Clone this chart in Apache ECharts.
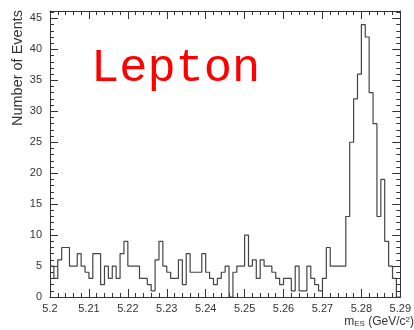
<!DOCTYPE html>
<html>
<head>
<meta charset="utf-8">
<script src="https://cdn.jsdelivr.net/npm/echarts@6/dist/echarts.min.js"></script>
<style>
html,body{margin:0;padding:0;background:#fff;}
#chart{width:414px;height:330px;}
</style>
</head>
<body>
<div id="chart"></div>
<script>
// ---- data ----
const xMin = 5.2;
const xMax = 5.29;
const binWidth = 0.001;
const counts = [
  5, 3, 6, 8, 8, 5, 5, 7, 5, 4,
  3, 7, 7, 2, 5, 3, 5, 3, 7, 9,
  5, 5, 5, 3, 3, 2, 1, 6, 9, 5,
  4, 3, 3, 6, 2, 7, 4, 4, 4, 7,
  4, 3, 2, 3, 4, 5, 0, 4, 5, 5,
  10, 5, 6, 3, 6, 5, 5, 4, 3, 2,
  3, 3, 1, 5, 1, 1, 5, 3, 2, 1,
  3, 8, 5, 5, 5, 5, 13, 25, 32, 36,
  44, 42, 33, 28, 13, 19, 9, 5, 3, 0
];
const yMax = 46.2;
const xTickLabels = ['5.2','5.21','5.22','5.23','5.24','5.25','5.26','5.27','5.28','5.29'];
const yTickLabels = ['0','5','10','15','20','25','30','35','40','45'];
const yTitle = 'Number of Events';
const overlayText = 'Lepton';

// histogram outline points (bin low edges + closing edge)
const pts = counts.map((c, i) => [xMin + i * binWidth, c]);
pts.push([xMin + counts.length * binWidth, counts[counts.length - 1]]);

const axisColor = '#333';
const labelFont = {fontFamily: '"Liberation Sans", Arial, sans-serif', fontSize: 11, color: '#333'};

function xAxisCfg(pos, labels) {
  return {
    type: 'value', position: pos, min: xMin, max: xMax, interval: 0.01,
    axisLine: {show: true, onZero: false, lineStyle: {color: axisColor, width: 1}},
    axisTick: {show: true, inside: true, length: 8, lineStyle: {color: axisColor}},
    minorTick: {show: true, splitNumber: 5, length: 4, lineStyle: {color: axisColor}},
    splitLine: {show: false}, minorSplitLine: {show: false},
    axisLabel: labels ? Object.assign({
      show: true, margin: 6,
      formatter: v => xTickLabels[Math.round((v - xMin) / 0.01)] || ''
    }, labelFont) : {show: false}
  };
}
function yAxisCfg(pos, interval, len, labels, line) {
  return {
    type: 'value', position: pos, min: 0, max: yMax, interval: interval,
    axisLine: {show: line, onZero: false, lineStyle: {color: axisColor, width: 1}},
    axisTick: {show: true, inside: true, length: len, lineStyle: {color: axisColor}},
    splitLine: {show: false},
    axisLabel: labels ? Object.assign({
      show: true, margin: 8, showMaxLabel: false,
      formatter: v => yTickLabels[Math.round(v / 5)] || ''
    }, labelFont) : {show: false}
  };
}

const chart = echarts.init(document.getElementById('chart'), null, {renderer: 'canvas'});
chart.setOption({
  animation: false,
  backgroundColor: '#fff',
  grid: {left: 50, right: 9, top: 11, bottom: 33, containLabel: false},
  xAxis: [xAxisCfg('bottom', true), xAxisCfg('top', false)],
  yAxis: [
    yAxisCfg('left', 5, 8, true, true),
    yAxisCfg('left', 1, 4, false, false),
    yAxisCfg('right', 5, 8, false, true),
    yAxisCfg('right', 1, 4, false, false)
  ],
  series: [{
    type: 'line', xAxisIndex: 0, yAxisIndex: 0,
    data: pts, step: 'end', symbol: 'none',
    lineStyle: {color: '#444', width: 1.2},
    clip: true
  }],
  graphic: [
    {
      type: 'text', x: 18, y: 10, rotation: Math.PI / 2,
      style: {text: yTitle, textAlign: 'right', textVerticalAlign: 'middle',
        font: '14.5px "Liberation Sans", Arial, sans-serif', fill: '#333'}
    },
    {
      type: 'text', x: 414, y: 322,
      style: {
        text: 'm{sub|ES} (GeV/c{sup|2})',
        align: 'right', verticalAlign: 'middle',
        fontFamily: '"Liberation Sans", Arial, sans-serif', fontSize: 12, fill: '#333',
        rich: {
          sub: {fontSize: 8, verticalAlign: 'bottom', padding: [4, 0, 0, 0], fill: '#333'},
          sup: {fontSize: 8, verticalAlign: 'top', padding: [0, 0, 4, 0], fill: '#333'}
        }
      }
    },
    {
      type: 'text', x: 91, y: 69,
      style: {text: overlayText, textAlign: 'left', textVerticalAlign: 'middle',
        font: '47px "Liberation Mono", "DejaVu Sans Mono", monospace', fill: '#ff0000'}
    }
  ]
});
</script>
</body>
</html>
